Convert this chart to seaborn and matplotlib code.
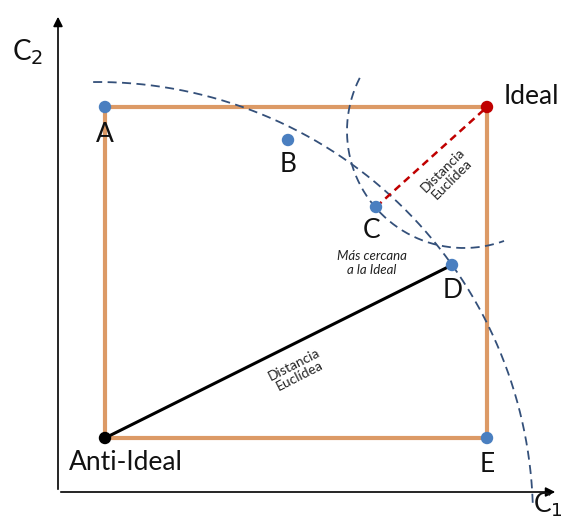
import seaborn as sns
import matplotlib.pyplot as plt
import pandas as pd
import numpy as np

# points (C1, C2) in chart units
names = ["A", "B", "C", "D", "E", "Ideal", "Anti-Ideal"]
c1 = [4.7, 23.0, 31.8, 39.4, 42.9, 42.9, 4.7]
c2 = [38.3, 35.0, 28.3, 22.5, 5.2, 38.3, 5.2]
kinds = ["alt", "alt", "alt", "alt", "alt", "ideal", "anti"]

# dashed arcs: centre, radius, start/end angle (deg)
arc_centres = [(3.9, -2.8), (40.6, 35.9)]
arc_radii = [43.6, 11.7]
arc_angles = [(2.0, 91.2), (153.0, 290.0)]

df = pd.DataFrame({"name": names, "c1": c1, "c2": c2, "kind": kinds})
pt = df.set_index("name")

sns.set_theme(style="white")
plt.rcParams["font.family"] = ["Lato", "DejaVu Sans"]

fig = plt.figure(figsize=(5.68, 5.20), dpi=100)
ax = fig.add_axes([0, 0, 1, 1])
ax.set_xlim(-5.8, 51.0)
ax.set_ylim(-3.0, 49.0)
ax.axis("off")

orange = "#dc9a66"
blue = "#4a7fc0"
navy = "#34507a"
red = "#c00000"

# rectangle A - Ideal - E - Anti-Ideal
rect = pt.loc[["Anti-Ideal", "A", "Ideal", "E", "Anti-Ideal"]].reset_index()
sns.lineplot(data=rect, x="c1", y="c2", sort=False, estimator=None,
             color=orange, linewidth=3, ax=ax, zorder=2)

# dashed arcs
for (cx, cy), r, (a0, a1) in zip(arc_centres, arc_radii, arc_angles):
    t = np.radians(np.linspace(a0, a1, 200))
    arc = pd.DataFrame({"x": cx + r * np.cos(t), "y": cy + r * np.sin(t)})
    sns.lineplot(data=arc, x="x", y="y", sort=False, estimator=None,
                 color=navy, linewidth=1.3, linestyle=(0, (5, 3)), ax=ax, zorder=3)

# Euclidean distances
seg1 = pt.loc[["Anti-Ideal", "D"]].reset_index()
sns.lineplot(data=seg1, x="c1", y="c2", sort=False, estimator=None,
             color="black", linewidth=2.2, ax=ax, zorder=4)
seg2 = pt.loc[["C", "Ideal"]].reset_index()
sns.lineplot(data=seg2, x="c1", y="c2", sort=False, estimator=None,
             color=red, linewidth=1.8, linestyle=(0, (3, 2)), ax=ax, zorder=4)

# points
sns.scatterplot(data=df, x="c1", y="c2", hue="kind",
                palette={"alt": blue, "ideal": red, "anti": "black"},
                s=80, edgecolor="none", legend=False, ax=ax, zorder=5)

# axes arrows
ax.annotate("", xy=(0, 47.6), xytext=(0, -0.2),
            arrowprops=dict(arrowstyle="-|>", color="black", lw=1.2, mutation_scale=14))
ax.annotate("", xy=(50.0, -0.2), xytext=(0, -0.2),
            arrowprops=dict(arrowstyle="-|>", color="black", lw=1.2, mutation_scale=14))

lab = dict(fontsize=19, color="#111111", ha="center", va="center")
ax.text(4.7, 35.5, "A", **lab)
ax.text(23.0, 32.6, "B", **lab)
ax.text(31.4, 25.9, "C", **lab)
ax.text(39.5, 20.0, "D", **lab)
ax.text(42.9, 2.5, "E", **lab)
ax.text(44.6, 39.3, "Ideal", fontsize=19, color="#111111", ha="left", va="center")
ax.text(1.1, 2.8, "Anti-Ideal", fontsize=19, color="#111111", ha="left", va="center")
ax.text(-4.6, 43.8, "C$_2$", fontsize=20, color="#111111", ha="left", va="center")
ax.text(47.5, -1.5, "C$_1$", fontsize=19, color="#111111", ha="left", va="center")

ax.text(31.4, 22.7, "Más cercana\na la Ideal", fontsize=9.5, style="italic",
        ha="center", va="center", linespacing=1.15, color="#222222")
ax.text(38.9, 31.5, "Distancia\nEuclídea", fontsize=10, rotation=45,
        ha="center", va="center", linespacing=1.05, color="#222222")
ax.text(23.9, 12.0, "Distancia\nEuclídea", fontsize=10, rotation=27,
        ha="center", va="center", linespacing=1.05, color="#222222")

fig.savefig("out.png", dpi=100)
